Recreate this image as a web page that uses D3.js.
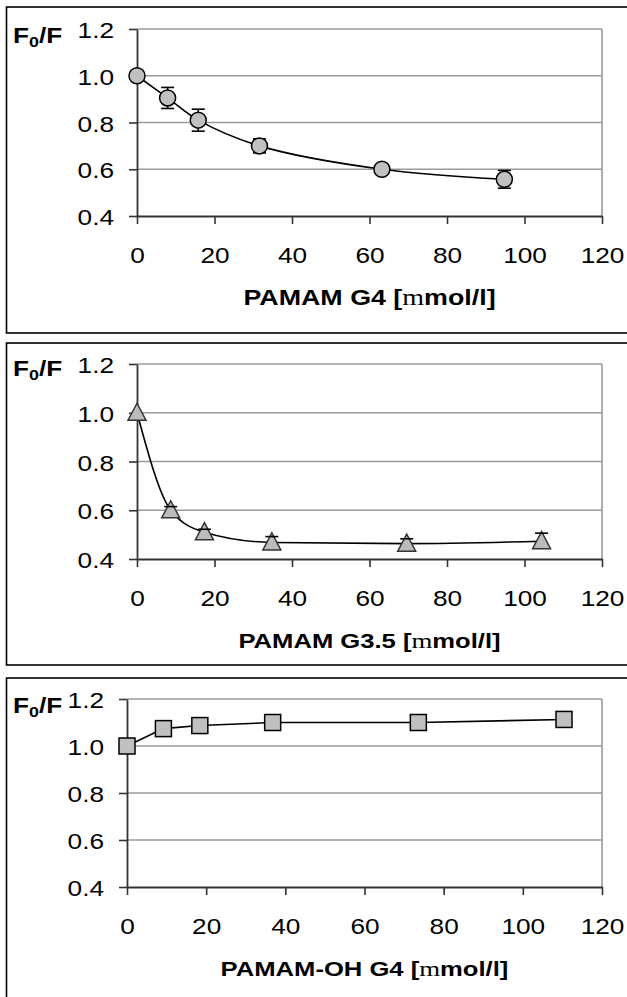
<!DOCTYPE html>
<html>
<head>
<meta charset="utf-8">
<script src="https://cdn.jsdelivr.net/npm/d3@7"></script>
<style>
  html, body { margin: 0; padding: 0; background: #fff; }
  svg { display: block; }
</style>
</head>
<body>
<svg id="chart" width="627" height="997"></svg>
<script>
// ---------- data ----------
const xTicks = [0, 20, 40, 60, 80, 100, 120];
const yTicks = [0.4, 0.6, 0.8, 1.0, 1.2];

const xG4 = [0, 7.9, 15.8, 31.6, 63.2, 94.8];
const yG4 = [1.0, 0.905, 0.81, 0.70, 0.60, 0.557];
const eG4 = [0, 0.045, 0.047, 0.03, 0.01, 0.038];

const xG35 = [0, 8.7, 17.4, 34.8, 69.6, 104.4];
const yG35 = [1.0, 0.60, 0.51, 0.468, 0.463, 0.473];
const eG35 = [0, 0.015, 0.012, 0.024, 0.02, 0.033];

const xOH = [0, 9.2, 18.4, 36.8, 73.6, 110.4];
const yOH = [1.0, 1.074, 1.087, 1.10, 1.10, 1.113];
const eOH = [0, 0.005, 0.005, 0.005, 0.005, 0.005];

const titles = ["PAMAM G4 [", "PAMAM G3.5 [", "PAMAM-OH G4 ["];
const titleMu = "m";
const titleEnd = "mol/l]";
const yLabelMain = "F";
const yLabelSub = "0";
const yLabelEnd = "/F";

// ---------- layout ----------
const SX = 1.22; // horizontal text stretch seen in the picture
const SANS = "'Liberation Sans', Arial, sans-serif";
const SERIF = "'Liberation Serif', 'Times New Roman', serif";

const panels = [
  { box: [7, 333], left: 137, right: 602, top: 29, bottom: 216, xs: xG4, ys: yG4, es: eG4,
    marker: "circle", curve: d3.curveCatmullRom.alpha(0.5), title: titles[0], yl: 43, tfs: 22 },
  { box: [343, 665], left: 137, right: 602, top: 364, bottom: 559, xs: xG35, ys: yG35, es: eG35,
    marker: "triangle", curve: d3.curveMonotoneX, title: titles[1], yl: 376, tfs: 21 },
  { box: [678, 1010], left: 127, right: 602, top: 699, bottom: 887, xs: xOH, ys: yOH, es: eOH,
    marker: "square", curve: d3.curveLinear, title: titles[2], yl: 713, tfs: 21 }
];

const svg = d3.select("#chart");

panels.forEach(p => {
  const g = svg.append("g");

  // outer frame
  g.append("rect")
    .attr("x", 6.5).attr("y", p.box[0])
    .attr("width", 640).attr("height", p.box[1] - p.box[0])
    .attr("fill", "#fff").attr("stroke", "#000").attr("stroke-width", 1.6);

  const x = d3.scaleLinear().domain([0, 120]).range([p.left, p.right]);
  const y = d3.scaleLinear().domain([0.4, 1.2]).range([p.bottom, p.top]);

  // gridlines
  g.append("g").selectAll("line").data(yTicks.filter(v => v > 0.4)).join("line")
    .attr("x1", p.left).attr("x2", p.right)
    .attr("y1", d => y(d)).attr("y2", d => y(d))
    .attr("stroke", "#9a9a9a").attr("stroke-width", 1.6);
  g.append("line")
    .attr("x1", p.right).attr("x2", p.right)
    .attr("y1", y(1.2)).attr("y2", y(0.4))
    .attr("stroke", "#9a9a9a").attr("stroke-width", 1.6);

  // axes
  const ax = g.append("g").attr("transform", `translate(0,${p.bottom})`)
    .call(d3.axisBottom(x).tickValues(xTicks).tickFormat(d3.format("d"))
      .tickSizeInner(8).tickSizeOuter(0));
  const ay = g.append("g").attr("transform", `translate(${p.left},0)`)
    .call(d3.axisLeft(y).tickValues(yTicks).tickFormat(d3.format(".1f"))
      .tickSizeInner(8).tickSizeOuter(0));
  [ax, ay].forEach(a => {
    a.select(".domain").attr("stroke", "#333").attr("stroke-width", 1.8);
    a.selectAll(".tick line").attr("stroke", "#333").attr("stroke-width", 1.6);
    a.selectAll("text").attr("fill", "#000")
      .style("font-family", SANS).style("font-size", "21.5px");
  });
  ax.selectAll("text").attr("y", null).attr("dy", null)
    .attr("transform", `translate(0,47) scale(${SX},1)`);
  ay.selectAll("text").attr("x", null).attr("dy", null)
    .attr("text-anchor", "end")
    .attr("transform", `translate(-23,8.5) scale(${SX},1)`);

  // data
  const pts = p.xs.map((v, i) => ({ x: v, y: p.ys[i], e: p.es[i] }));

  const line = d3.line().x(d => x(d.x)).y(d => y(d.y)).curve(p.curve);
  g.append("path").datum(pts).attr("d", line)
    .attr("fill", "none").attr("stroke", "#000").attr("stroke-width", 1.6);

  const ep = pts.filter(d => d.e > 0);
  // vertical error lines (beneath markers)
  g.append("g").attr("stroke", "#000").attr("stroke-width", 1.6)
    .selectAll("line").data(ep).join("line")
    .attr("x1", d => x(d.x)).attr("x2", d => x(d.x))
    .attr("y1", d => y(d.y - d.e)).attr("y2", d => y(d.y + d.e));
  const caps = () => {
    const cg = g.append("g").attr("stroke", "#000").attr("stroke-width", 1.6);
    cg.selectAll("line.t").data(ep).join("line").attr("class", "t")
      .attr("x1", d => x(d.x) - 6.5).attr("x2", d => x(d.x) + 6.5)
      .attr("y1", d => y(d.y + d.e)).attr("y2", d => y(d.y + d.e));
    if (p.marker !== "triangle") {
      cg.selectAll("line.b").data(ep).join("line").attr("class", "b")
        .attr("x1", d => x(d.x) - 6.5).attr("x2", d => x(d.x) + 6.5)
        .attr("y1", d => y(d.y - d.e)).attr("y2", d => y(d.y - d.e));
    }
  };
  if (p.marker !== "triangle") caps();

  const mg = g.append("g").attr("fill", "#c0c0c0").attr("stroke", "#000").attr("stroke-width", 1.5);
  if (p.marker === "circle") {
    mg.selectAll("circle").data(pts).join("circle")
      .attr("cx", d => x(d.x)).attr("cy", d => y(d.y)).attr("r", 8);
  } else if (p.marker === "triangle") {
    mg.attr("stroke", "#333").attr("fill", "#bbbbbb");
    mg.selectAll("path").data(pts).join("path")
      .attr("d", d => {
        const cx = x(d.x), cy = y(d.y);
        return `M${cx},${cy - 9.5}L${cx + 9},${cy + 7.5}L${cx - 9},${cy + 7.5}Z`;
      });
  } else {
    mg.selectAll("rect").data(pts).join("rect")
      .attr("x", d => x(d.x) - 8).attr("y", d => y(d.y) - 8)
      .attr("width", 16).attr("height", 16);
  }
  if (p.marker === "triangle") caps();

  // y label F0/F
  const yl = g.append("text")
    .attr("transform", `translate(13,${p.yl}) scale(${SX - 0.03},1)`)
    .style("font-family", SANS).style("font-weight", "bold").style("font-size", "22px");
  yl.append("tspan").text(yLabelMain);
  yl.append("tspan").text(yLabelSub).attr("dy", 4).style("font-size", "15px");
  yl.append("tspan").text(yLabelEnd).attr("dy", -4);

  // x title
  const cx = (p.left + p.right) / 2;
  const t = g.append("text")
    .attr("transform", `translate(${cx},${p.bottom + 89}) scale(${SX},1)`)
    .attr("text-anchor", "middle")
    .style("font-family", SANS).style("font-weight", "bold").style("font-size", p.tfs + "px");
  t.append("tspan").text(p.title);
  t.append("tspan").text(titleMu).style("font-family", SERIF).style("font-weight", "normal").style("font-size", (p.tfs + 1) + "px");
  t.append("tspan").text(titleEnd);
});
</script>
</body>
</html>
